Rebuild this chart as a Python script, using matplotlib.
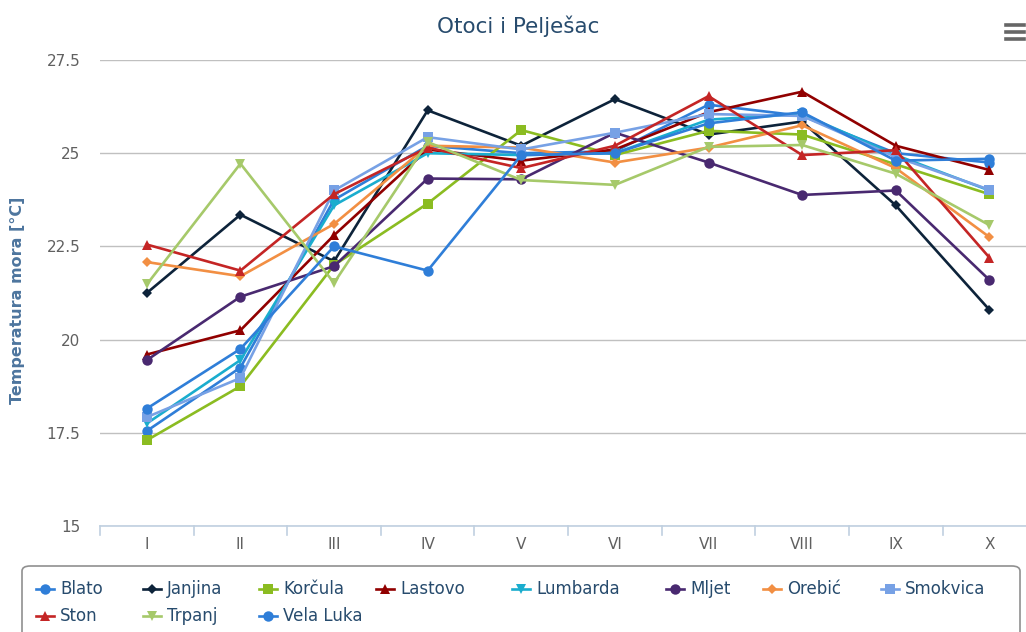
import matplotlib
matplotlib.use('Agg')
import matplotlib.pyplot as plt
from matplotlib.lines import Line2D
from matplotlib.patches import FancyBboxPatch

months = ['I', 'II', 'III', 'IV', 'V', 'VI', 'VII', 'VIII', 'IX', 'X']

blato = [17.55, 19.25, 23.75, 25.2, 25.0, 25.05, 26.3, 26.0, 25.0, 24.75]
janjina = [21.25, 23.35, 22.1, 26.15, 25.2, 26.45, 25.5, 25.85, 23.6, 20.8]
korcula = [17.3, 18.75, 22.0, 23.65, 25.62, 24.95, 25.6, 25.5, 24.7, 23.9]
lastovo = [19.6, 20.25, 22.8, 25.1, 24.8, 25.1, 26.1, 26.65, 25.2, 24.55]
lumbarda = [17.75, 19.45, 23.6, 25.0, 24.95, 25.0, 25.9, 26.05, 24.95, 24.0]
mljet = [19.45, 21.15, 21.97, 24.32, 24.3, 25.55, 24.75, 23.88, 24.0, 21.6]
orebic = [22.08, 21.7, 23.1, 25.2, 25.15, 24.75, 25.15, 25.75, 24.6, 22.75]
smokvica = [17.92, 18.97, 24.0, 25.43, 25.1, 25.55, 26.05, 26.0, 24.9, 24.02]
ston = [22.55, 21.85, 23.9, 25.15, 24.6, 25.2, 26.53, 24.95, 25.08, 22.2]
trpanj = [21.48, 24.72, 21.52, 25.3, 24.28, 24.15, 25.17, 25.22, 24.45, 23.07]
vela_luka = [18.15, 19.75, 22.5, 21.85, 24.95, 25.0, 25.8, 26.1, 24.8, 24.85]

names = ['Blato', 'Janjina', 'Korčula', 'Lastovo', 'Lumbarda', 'Mljet',
         'Orebić', 'Smokvica', 'Ston', 'Trpanj', 'Vela Luka']
series = [blato, janjina, korcula, lastovo, lumbarda, mljet,
          orebic, smokvica, ston, trpanj, vela_luka]
colors = ['#2f7ed8', '#0d233a', '#8bbc21', '#910000', '#1aadce', '#492970',
          '#f28f43', '#77a1e5', '#c42525', '#a6c96a', '#2f7ed8']
markers = ['o', 'D', 's', '^', 'v', 'o', 'D', 's', '^', 'v', 'o']
msizes = {'o': 7.5, 'D': 5.4, 's': 6.8, '^': 7.8, 'v': 7.8}

W, H = 1026, 632
fig = plt.figure(figsize=(W / 100, H / 100), dpi=100)
ax = fig.add_axes([100 / W, 1 - 526 / H, (1026 - 100) / W, (526 - 60) / H])

x = list(range(len(months)))
for vals, c, m in zip(series, colors, markers):
    ax.plot(x, vals, color=c, lw=1.9, marker=m, ms=msizes[m],
            markeredgewidth=0, zorder=3)

ax.set_ylim(15, 27.5)
ax.set_yticks([15, 17.5, 20, 22.5, 25, 27.5])
ax.set_yticklabels(['15', '17.5', '20', '22.5', '25', '27.5'])
ax.set_xlim(-0.5, (1026 - 147) / 93.6)
ax.set_xticks(x)
ax.set_xticklabels(months)
ax.grid(axis='y', color='#c0c0c0', lw=1)
ax.set_axisbelow(True)
for s in ['top', 'right', 'left']:
    ax.spines[s].set_visible(False)
ax.spines['bottom'].set_color('#c0d0e0')
ax.spines['bottom'].set_linewidth(1.2)
ax.tick_params(axis='y', length=0, pad=14, labelsize=11, labelcolor='#606060')
ax.tick_params(axis='x', length=0, pad=8, labelsize=11, labelcolor='#606060')
# category boundary tick marks
for b in [i + 0.5 for i in range(-1, 10)]:
    ax.plot([b, b], [0, -0.02], transform=ax.get_xaxis_transform(),
            color='#c0d0e0', lw=1.2, clip_on=False)

fig.text(18 / W, 1 - 300 / H, 'Temperatura mora [°C]', rotation=90,
         ha='center', va='center', fontsize=11.5, fontweight='bold', color='#4d759e')
fig.text(518 / W, 1 - 26 / H, 'Otoci i Pelješac', ha='center', va='center',
         fontsize=15.5, color='#274b6d')

# export menu icon
for yy in [25, 32, 39]:
    fig.add_artist(Line2D([1006 / W, 1024 / W], [1 - yy / H] * 2,
                          color='#666666', lw=2.6))

# legend
box = FancyBboxPatch((22 / W, -0.02), (1020 - 22) / W, (1 - 566 / H) + 0.02,
                     boxstyle='round,pad=0,rounding_size=0.008',
                     transform=fig.transFigure, facecolor='white',
                     edgecolor='#909090', lw=1.2)
fig.add_artist(box)
leg_x = [45, 152, 268, 385, 521, 675, 772, 890, 45, 152, 268]
leg_y = [589, 589, 589, 589, 589, 589, 589, 589, 616, 616, 616]
for name, c, m, lx, ly in zip(names, colors, markers, leg_x, leg_y):
    fig.add_artist(Line2D([(lx - 9) / W, (lx + 9) / W], [1 - ly / H] * 2,
                          color=c, lw=1.9))
    fig.add_artist(Line2D([lx / W], [1 - ly / H], color=c, marker=m,
                          ms=msizes[m], markeredgewidth=0))
    fig.text((lx + 15) / W, 1 - ly / H, name, ha='left', va='center',
             fontsize=12, color='#274b6d')

fig.savefig('out.png', dpi=100)
